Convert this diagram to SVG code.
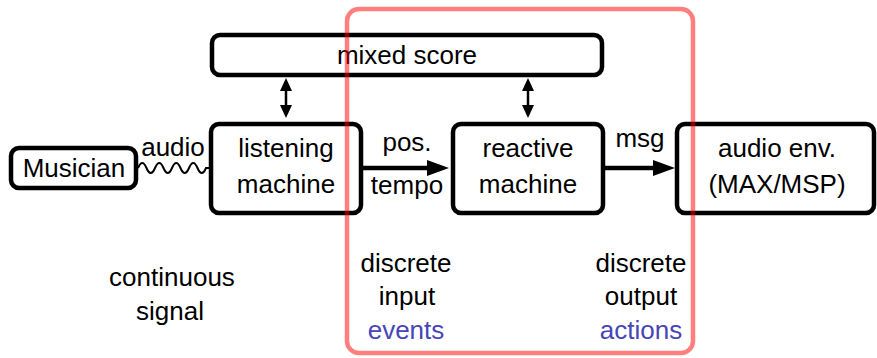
<svg xmlns="http://www.w3.org/2000/svg" width="877" height="358" viewBox="0 0 877 358">
<defs>
<style>
.box{fill:#fff;stroke:#000;stroke-width:4.5}
text{font-family:"Liberation Sans",Arial,sans-serif;font-size:26px;fill:#000;text-anchor:middle}
.blue{fill:#4646b8}
.arr{stroke:#000;stroke-width:4.5;fill:none}
.dbl{stroke:#000;stroke-width:2.5;fill:none}
</style>
<marker id="big" viewBox="0 0 22 16" refX="14" refY="8" markerWidth="22" markerHeight="16" markerUnits="userSpaceOnUse" orient="auto">
<path d="M0,0 L22,8 L0,16 Z" fill="#000"/>
</marker>
<marker id="small" viewBox="0 0 13 12" refX="7" refY="6" markerWidth="13" markerHeight="12" markerUnits="userSpaceOnUse" orient="auto-start-reverse">
<path d="M0,0 L13,6 L0,12 Z" fill="#000"/>
</marker>
</defs>
<rect width="877" height="358" fill="#fff"/>
<g id="connectors">
<path class="dbl" d="M286,84 V112" marker-start="url(#small)" marker-end="url(#small)"/>
<path class="dbl" d="M528,84 V112" marker-start="url(#small)" marker-end="url(#small)"/>
<path class="arr" d="M363,168 H441" marker-end="url(#big)"/>
<path class="arr" d="M605,168 H667" marker-end="url(#big)"/>
<path d="M138,168 q4.25,-10 8.5,0 t8.5,0 t8.5,0 t8.5,0 t8.5,0 t8.5,0 t8.5,0 t8.5,0 H210" fill="none" stroke="#000" stroke-width="2"/>
<text x="173" y="156">audio</text>
<text x="407" y="151">pos.</text>
<text x="407" y="194">tempo</text>
<text x="640" y="147">msg</text>
</g>
<g id="mixed-score">
<rect class="box" x="212" y="35" width="390" height="40" rx="8"/>
<text x="407" y="64">mixed score</text>
</g>
<g id="musician">
<rect class="box" x="11" y="148" width="125" height="40" rx="8"/>
<text x="74" y="177">Musician</text>
</g>
<g id="listening-machine">
<rect class="box" x="211" y="124" width="150" height="89" rx="8"/>
<text x="286" y="157">listening</text>
<text x="286" y="193">machine</text>
</g>
<g id="reactive-machine">
<rect class="box" x="453" y="124" width="150" height="89" rx="8"/>
<text x="528" y="157">reactive</text>
<text x="528" y="193">machine</text>
</g>
<g id="audio-env">
<rect class="box" x="677" y="124" width="197" height="89" rx="8"/>
<text x="777" y="157">audio env.</text>
<text x="777" y="193">(MAX/MSP)</text>
</g>
<g id="labels">
<text x="172" y="286">continuous</text>
<text x="170" y="320">signal</text>
<text x="406" y="272">discrete</text>
<text x="407" y="305">input</text>
<text class="blue" x="406" y="339">events</text>
<text x="641" y="272">discrete</text>
<text x="641" y="305">output</text>
<text class="blue" x="641" y="339">actions</text>
</g>
<g id="region">
<rect x="347" y="9" width="346" height="344" rx="12" fill="none" stroke="#ff0000" stroke-opacity="0.5" stroke-width="4.5"/>
</g>
</svg>
